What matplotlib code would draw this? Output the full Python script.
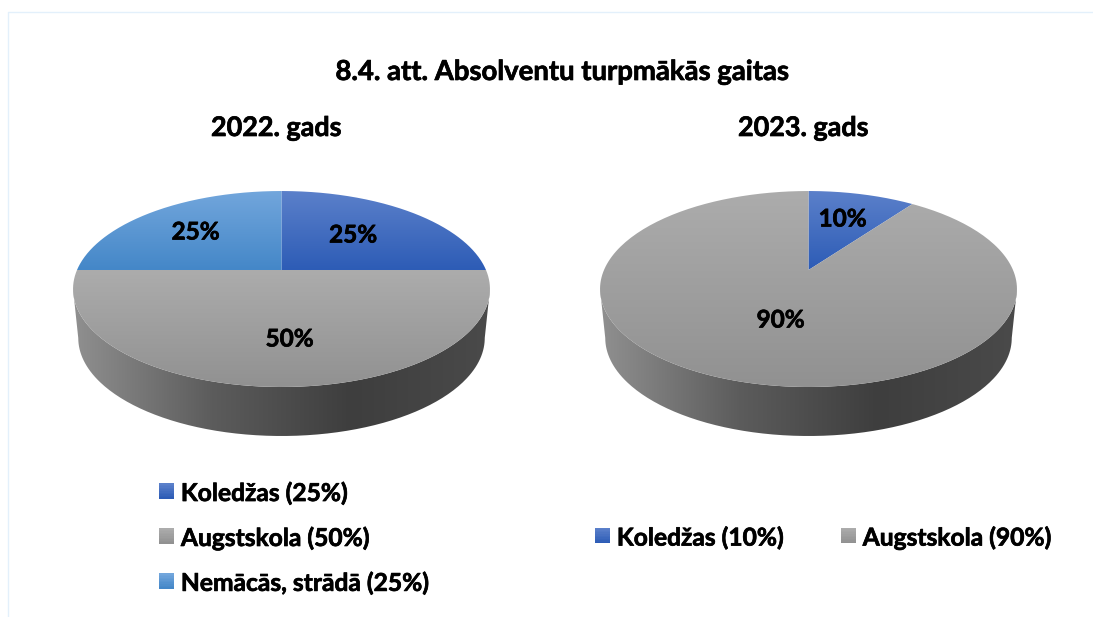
import numpy as np
import matplotlib
matplotlib.use('Agg')
import matplotlib.pyplot as plt
import matplotlib.patheffects as pe
from matplotlib.colors import LinearSegmentedColormap
from matplotlib.legend_handler import HandlerBase
from matplotlib.lines import Line2D
from matplotlib.patches import Patch, PathPatch, Rectangle
from matplotlib.path import Path

plt.rcParams['font.family'] = ['Lato', 'DejaVu Sans']
plt.rcParams['font.weight'] = 'bold'

W, H = 1093, 617

main_title = '8.4. att. Absolventu turpmākās gaitas'
years = ['2022. gads', '2023. gads']

labels_2022 = ['Koledžas', 'Augstskola', 'Nemācās, strādā']
values_2022 = [25, 50, 25]
labels_2023 = ['Koledžas', 'Augstskola']
values_2023 = [10, 90]

# top colour, bottom colour of each slice
grads = {
    'Koledžas': ('#5b80ca', '#2d5cb6'),
    'Augstskola': ('#acacac', '#919191'),
    'Nemācās, strādā': ('#72a6dc', '#4487c8'),
}
wall_cols = ['#909090', '#5c5c5c', '#3e3e3e', '#4a4a4a']
K = 0.194
fat = [pe.withStroke(linewidth=0.5, foreground='black')]

fig = plt.figure(figsize=(W / 100, H / 100), dpi=100)


def project(x, y, dy=0, sx=1.0):
    # tilted disc, seen in perspective
    d = 1 + K * y
    return 204.5 * sx * x / d, 94.3 * y / d + dy


def fill_grad(ax, xs, ys, cols, horizontal=False, zorder=2):
    cm = LinearSegmentedColormap.from_list('g', cols)
    g = np.linspace(0, 1, 256)
    g = g[None, :] if horizontal else g[:, None]
    im = ax.imshow(g, cmap=cm, aspect='auto', origin='upper', zorder=zorder,
                   extent=(xs.min(), xs.max(), ys.min(), ys.max()))
    path = Path(np.column_stack([xs, ys]))
    im.set_clip_path(PathPatch(path, transform=ax.transData))


def draw_pie(cx, labels, values, texts_at):
    ax = fig.add_axes([(cx - 220) / W, 1 - 450 / H, 440 / W, 280 / H])
    wedges, _ = ax.pie(values, startangle=90, counterclock=False, radius=1)

    # side wall, from widest point to widest point
    s = np.arcsin(K)
    t = np.linspace(np.pi + s, 2 * np.pi - s, 200)
    tx, ty = project(np.cos(t), np.sin(t))
    bx, by = project(np.cos(t), np.sin(t), dy=-49, sx=0.975)
    wx = np.r_[tx[0], bx, tx[-1], tx[::-1]]
    wy = np.r_[ty[0], by, ty[-1], ty[::-1]]
    fill_grad(ax, wx, wy, wall_cols, horizontal=True, zorder=1)

    # top of the pie, one slice at a time
    for w, lab in zip(wedges, labels):
        w.set_visible(False)
        t = np.radians(np.linspace(w.theta1, w.theta2, 200))
        xs, ys = project(np.cos(t), np.sin(t))
        xs, ys = np.r_[0, xs, 0], np.r_[0, ys, 0]
        fill_grad(ax, xs, ys, grads[lab])

    for v, (x, y) in zip(values, texts_at):
        ax.text(x, y, f'{v}%', ha='center', va='center', fontsize=17.5, zorder=5,
                path_effects=fat)

    ax.set_aspect('auto')
    ax.set_xlim(-220, 220)
    ax.set_ylim(-180, 100)
    ax.axis('off')


class GradHandler(HandlerBase):
    def create_artists(self, legend, orig, xd, yd, width, height, fontsize, trans):
        c1, c2 = orig.cols
        cm = LinearSegmentedColormap.from_list('h', [c2, c1])
        n = 10
        out = []
        for i in range(n):
            out.append(Rectangle((-xd, -yd + 1.0 + i * height / n), width, height / n + 0.1,
                                 fc=cm(i / (n - 1)), ec='none', transform=trans))
        return out


def add_legend(labels, values, x, y, ncol, colsp=1.0):
    hs = []
    for lab in labels:
        p = Patch(label=f'{lab} ({values[labels.index(lab)]}%)')
        p.cols = grads[lab]
        hs.append(p)
    leg = fig.legend(handles=hs, loc='upper left', bbox_to_anchor=(x / W, 1 - y / H),
                     ncol=ncol, frameon=False, fontsize=17.7, borderpad=0, borderaxespad=0,
                     handlelength=0.61, handleheight=0.61, handletextpad=0.28,
                     labelspacing=0.87, columnspacing=colsp,
                     handler_map={Patch: GradHandler()})
    for t in leg.get_texts():
        t.set_path_effects(fat)
    return leg


draw_pie(281.5, labels_2022, values_2022, [(71.5, 35), (8, -69), (-86, 38)])
draw_pie(808.5, labels_2023, values_2023, [(34, 51), (-28, -50)])

fig.text(561.5 / W, 1 - 72 / H, main_title, ha='center', va='center', fontsize=19.8, path_effects=fat)
fig.text(276 / W, 1 - 128 / H, years[0], ha='center', va='center', fontsize=19.4, path_effects=fat)
fig.text(803 / W, 1 - 128 / H, years[1], ha='center', va='center', fontsize=19.4, path_effects=fat)

add_legend(labels_2022, values_2022, 159, 481.5, 1)
add_legend(labels_2023, values_2023, 595, 526, 2, colsp=2.3)

# thin frame of the pasted picture
fig.add_artist(Line2D([8 / W, 8 / W, 1], [0, 1 - 12 / H, 1 - 12 / H], color='#e3f0fb', lw=1))

fig.savefig('out.png', dpi=100)
